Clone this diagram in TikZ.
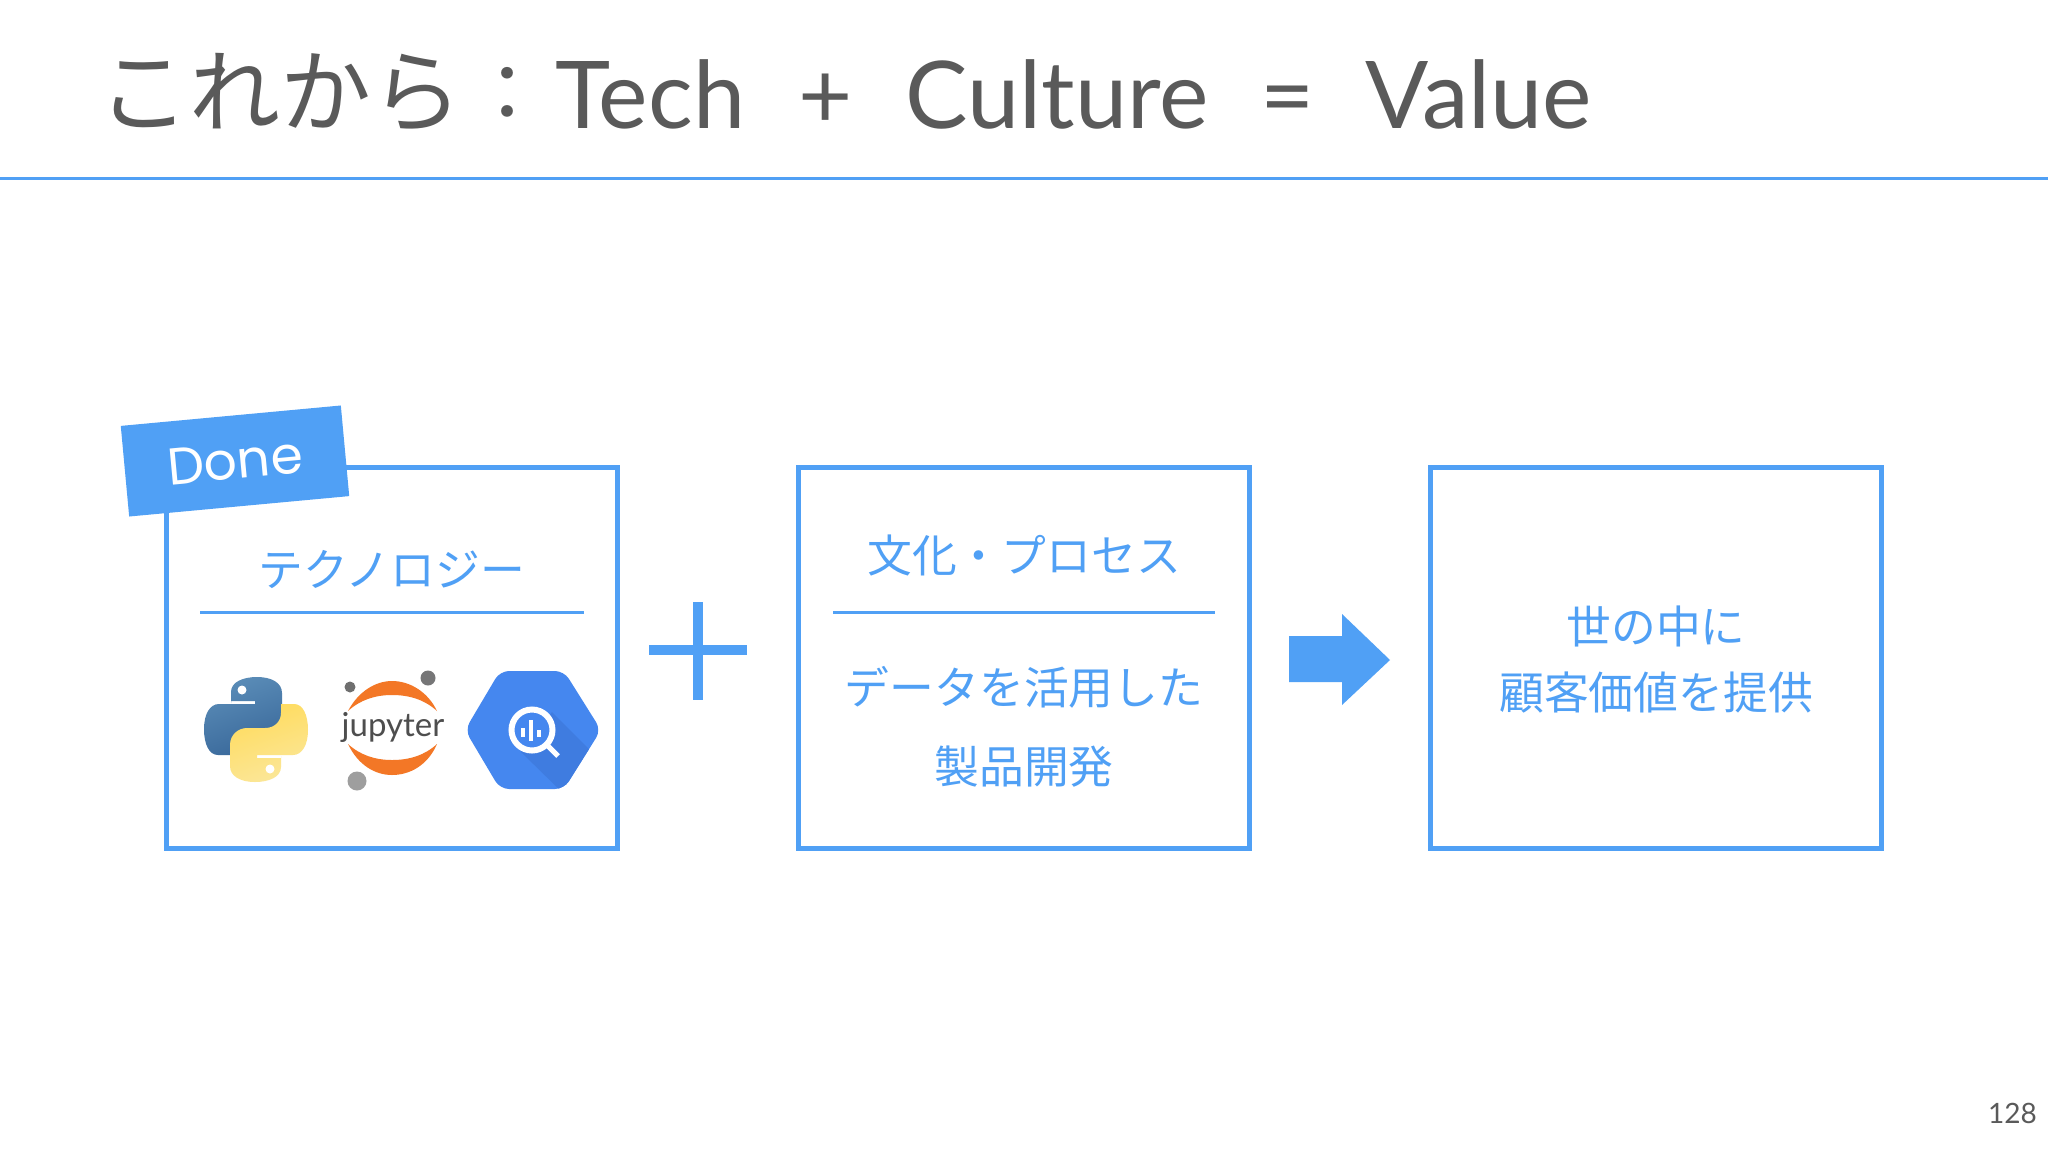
\documentclass[tikz,border=0pt]{standalone}
\usepackage{fontspec}
\setmainfont{Lato}
\newfontfamily\cjk{Noto Sans CJK JP}
\newfontfamily\lat{Lato}
\newfontfamily\pop{Poppins}
\definecolor{bl}{HTML}{50A0F5}
\definecolor{gr}{HTML}{5A5A5A}
\definecolor{pya}{HTML}{5B8DB8}
\definecolor{pyb}{HTML}{39689A}
\definecolor{pyc}{HTML}{FFDB5C}
\definecolor{pyd}{HTML}{FBE79A}
\definecolor{jor}{HTML}{F37726}
\definecolor{jtx}{HTML}{4E4E4E}
\definecolor{jd1}{HTML}{6F6F6F}
\definecolor{jd2}{HTML}{767677}
\definecolor{jd3}{HTML}{9E9E9E}
\definecolor{bqa}{HTML}{4587EF}
\definecolor{bqb}{HTML}{3F7CE0}
\tikzset{
 panel/.style={draw=bl,line width=4.5pt,fill=white,inner sep=0pt,minimum width=451pt,minimum height=381pt},
 bltext/.style={text=bl,font=\cjk\fontsize{44.8}{45}\selectfont,inner sep=0pt,anchor=center},
 rulebl/.style={draw=bl,line width=3pt},
 ttl/.style={text=gr,inner sep=0pt,anchor=base,font=\lat\fontsize{93.5}{94}\selectfont},
 ttlj/.style={text=gr,inner sep=0pt,anchor=center,font=\cjk\fontsize{91}{91}\selectfont},
 dotg/.style={circle,inner sep=0pt,fill=#1},
}
\begin{document}
\begin{tikzpicture}[x=1pt,y=-1pt]
\useasboundingbox (0,0) rectangle (2048,1152);
\fill[white] (0,0) rectangle (2048,1152);
% title
\node[ttlj] (t1) at (280,92) {これから};
\node[ttlj,font=\cjk\fontsize{78}{78}\selectfont] (t2) at (507,94) {：};
\node[ttl] (t3) at (650,128) {Tech};
\node[ttl] (t4) at (826,128) {+};
\node[ttl] (t5) at (1057,128) {Culture};
\node[ttl] (t6) at (1288,128) {=};
\node[ttl] (t7) at (1479,128) {Value};
\coordinate (ll) at (0,178.5); \coordinate (lr) at (2048,178.5);
\draw[draw=bl,line width=3pt] (ll)--(lr);
% boxes
\node[panel] (b1) at (392,658) {};
\node[panel] (b2) at (1024,658) {};
\node[panel] (b3) at (1656,658) {};
% done
\node[fill=bl,rotate=5.3,minimum width=221pt,minimum height=91pt,inner sep=0pt,text=white,font=\pop\fontsize{52}{52}\selectfont] (done) at (235,461) {Done};
% b1
\node[bltext] (tk) at (392,569) {テクノロジー};
\coordinate (r1a) at (200,612); \coordinate (r1b) at (584,612);
\draw[rulebl] (r1a)--(r1b);
% python
\def\snake{(231,703) -- (231,692) .. controls (231,682) and (243,677) .. (257,677) .. controls (272,677) and (282,683) .. (282,693) -- (282,714) .. controls (282,724) and (274,731) .. (265,731) -- (247,731) .. controls (237,731) and (231,738) .. (231,746) -- (231,755) -- (218,755) .. controls (209,755) and (204,744) .. (204,729) .. controls (204,714) and (210,704) .. (219,704) -- (255,704) -- (255,701) -- (231,701) -- cycle}
\shade[left color=pya,right color=pyb,shading angle=20] \snake;
\begin{scope}[rotate around={180:(256,729.5)}]
\shade[left color=pyc,right color=pyd,shading angle=20] \snake;
\end{scope}
\node[dotg=white,minimum size=9pt] (pe1) at (242,690) {};
\node[dotg=white,minimum size=9pt] (pe2) at (270,769) {};
% jupyter
\fill[jor] (348,711) .. controls (358,692) and (375,681) .. (392,681) .. controls (410,681) and (428,692) .. (437,711) .. controls (425,700) and (410,695) .. (392,695) .. controls (375,695) and (360,700) .. (348,711) -- cycle;
\fill[jor] (348,744) .. controls (358,765) and (375,775) .. (392,775) .. controls (410,775) and (428,765) .. (437,744) .. controls (425,755) and (410,760) .. (392,760) .. controls (375,760) and (360,755) .. (348,744) -- cycle;
\node[text=jtx,inner sep=0pt,font=\lat\fontsize{33}{33}\selectfont] (jp) at (393,727) {jupyter};
\node[dotg=jd1,minimum size=11pt] (j1) at (350,687) {};
\node[dotg=jd2,minimum size=15pt] (j2) at (428,678) {};
\node[dotg=jd3,minimum size=19pt] (j3) at (357,781) {};
% bigquery
\def\hex{(465,730) -- (500,671) -- (564,671) -- (601,730) -- (564,789) -- (500,789) -- cycle}
\fill[bqa,rounded corners=9pt] \hex;
\begin{scope}
\clip[rounded corners=9pt] \hex;
\fill[bqb] (552,712) -- (610,770) -- (610,800) -- (570,800) -- (521,752) -- cycle;
\end{scope}
\node[circle,draw=white,line width=6pt,fill=bqa,minimum size=41pt,inner sep=0pt] (bq) at (532,730) {};
\coordinate (h1) at (548,746); \coordinate (h2) at (558,756);
\draw[white,line width=5pt] (h1)--(h2);
\fill[white] (521,728) rectangle (525,737);
\fill[white] (529,720) rectangle (533,741);
\fill[white] (537,730) rectangle (541,737);
% plus
\coordinate (pt) at (698,602); \coordinate (pb) at (698,700); \coordinate (pl) at (649,650); \coordinate (pr) at (747,650);
\draw[draw=bl,line width=10pt] (pt)--(pb) (pl)--(pr);
% b2
\node[bltext] (cu) at (1024,555) {文化・プロセス};
\coordinate (r2a) at (833,612); \coordinate (r2b) at (1215,612);
\draw[rulebl] (r2a)--(r2b);
\node[bltext] (d1) at (1024,687) {データを活用した};
\node[bltext] (d2) at (1024,767) {製品開発};
% arrow
\fill[bl] (1289,636) -- (1342,636) -- (1342,614) -- (1390,660) -- (1342,705) -- (1342,682) -- (1289,682) -- cycle;
% b3
\node[bltext] (v1) at (1656,626) {世の中に};
\node[bltext] (v2) at (1656,693) {顧客価値を提供};
% page no
\node[text=gr,inner sep=0pt,anchor=east,font=\lat\fontsize{28}{28}\selectfont] (pg) at (2037,1113) {128};
\end{tikzpicture}
\end{document}
